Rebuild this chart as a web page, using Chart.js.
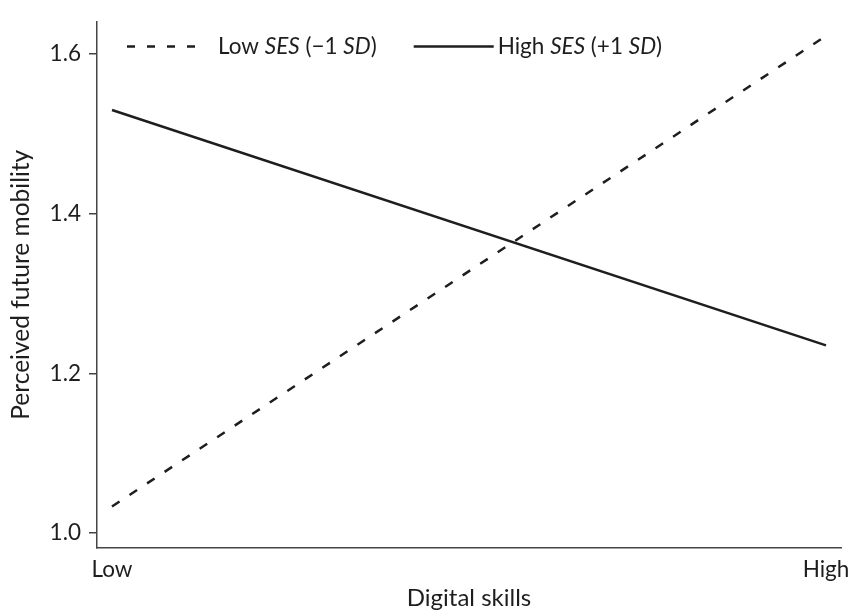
<!DOCTYPE html>
<html>
<head>
<meta charset="utf-8">
<script src="https://cdn.jsdelivr.net/npm/chart.js@4"></script>
<style>
  body { margin: 0; background: #fff; }
  canvas { display: block; }
</style>
</head>
<body>
<canvas id="chart" width="853" height="613"></canvas>
<script>
/* ===== Data ===== */
const xLabels = ["Low", "High"];
const xValues = [0, 1];
const lowSES = [1.033, 1.623];   // Low SES (-1 SD), dashed
const highSES = [1.530, 1.235];  // High SES (+1 SD), solid
const yTicks = [1.0, 1.2, 1.4, 1.6];

const ink = "#1e1e1e";
const axisColor = "#444";
const fontFamily = "Lato, 'Open Sans', sans-serif";

// Legend entries with mixed italic segments
const legendItems = [
  { dash: [8, 12], parts: [["Low ", false], ["SES", true], [" (\u22121 ", false], ["SD", true], [")", false]] },
  { dash: [], parts: [["High ", false], ["SES", true], [" (+1 ", false], ["SD", true], [")", false]] }
];

function toPoints(ys) {
  return xValues.map((x, i) => ({ x: x, y: ys[i] }));
}

/* ===== Custom legend (mixed italic text) ===== */
const mixedLegend = {
  id: "mixedLegend",
  afterDraw(chart) {
    const ctx = chart.ctx;
    const area = chart.chartArea;
    const y = area.top + 25;
    let x = area.left + 30;
    ctx.save();
    ctx.textBaseline = "middle";
    ctx.fillStyle = ink;
    legendItems.forEach(item => {
      ctx.beginPath();
      ctx.setLineDash(item.dash);
      ctx.lineWidth = 2.5;
      ctx.strokeStyle = ink;
      ctx.moveTo(x, y);
      ctx.lineTo(x + 80, y);
      ctx.stroke();
      ctx.setLineDash([]);
      x += item.dash.length ? 91 : 84;
      item.parts.forEach(([txt, italic]) => {
        ctx.font = (italic ? "italic " : "") + "22.5px " + fontFamily;
        ctx.fillText(txt, x, y);
        x += ctx.measureText(txt).width;
      });
      x += 37;
    });
    ctx.restore();
  }
};

/* ===== Chart ===== */
const ctx = document.getElementById("chart").getContext("2d");
new Chart(ctx, {
  type: "scatter",
  data: {
    datasets: [
      {
        label: "Low SES (-1 SD)",
        data: toPoints(lowSES),
        showLine: true,
        borderColor: ink,
        borderWidth: 2.5,
        borderDash: [9, 12],
        pointRadius: 0
      },
      {
        label: "High SES (+1 SD)",
        data: toPoints(highSES),
        showLine: true,
        borderColor: ink,
        borderWidth: 2.5,
        pointRadius: 0
      }
    ]
  },
  options: {
    responsive: false,
    animation: false,
    layout: { padding: { top: 18, right: 12, left: 0, bottom: 0 } },
    plugins: {
      legend: { display: false },
      tooltip: { enabled: false }
    },
    scales: {
      x: {
        type: "linear",
        min: -0.021,
        max: 1.021,
        afterBuildTicks: s => { s.ticks = xValues.map(v => ({ value: v })); },
        afterFit: s => { s.height = 65; s.paddingLeft = 0; s.paddingRight = 0; },
        grid: { display: false, drawTicks: false },
        border: { display: true, color: axisColor, width: 1.5 },
        ticks: {
          padding: 8,
          color: ink,
          font: { family: fontFamily, size: 22.5 },
          callback: (v, i) => xLabels[i]
        },
        title: {
          display: true,
          text: "Digital skills",
          color: ink,
          font: { family: fontFamily, size: 24 },
          padding: { top: 0, bottom: 0 }
        }
      },
      y: {
        min: 0.981,
        max: 1.641,
        afterBuildTicks: s => { s.ticks = yTicks.map(v => ({ value: v })); },
        afterFit: s => { s.width = 97; },
        grid: { drawOnChartArea: false, drawTicks: true, tickLength: 8, color: axisColor, lineWidth: 1.5 },
        border: { display: true, color: axisColor, width: 1.5 },
        ticks: {
          padding: 8,
          color: ink,
          font: { family: fontFamily, size: 22.5 },
          callback: v => v.toFixed(1)
        },
        title: {
          display: true,
          text: "Perceived future mobility",
          color: ink,
          font: { family: fontFamily, size: 24.5 },
          padding: { top: 6, bottom: 0 }
        }
      }
    }
  },
  plugins: [mixedLegend]
});
</script>
</body>
</html>
